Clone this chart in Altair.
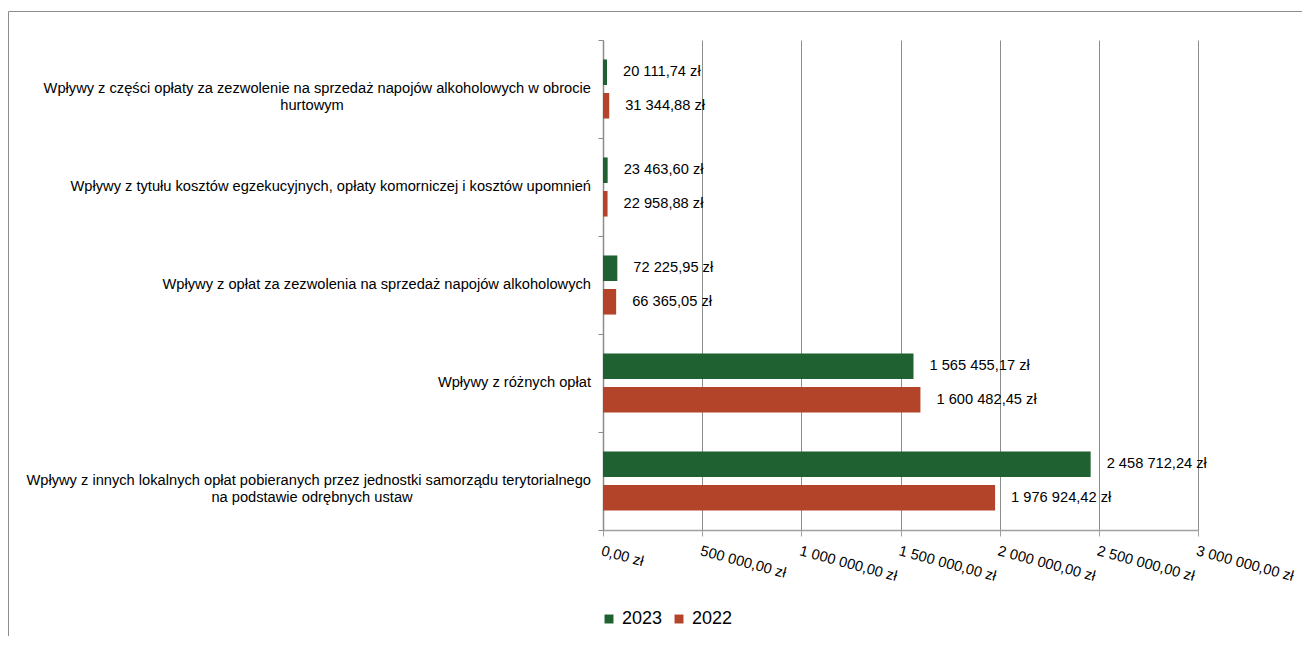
import altair as alt
import pandas as pd

categories = [
    "Wpływy z części opłaty za zezwolenie na sprzedaż napojów alkoholowych w obrocie\nhurtowym",
    "Wpływy z tytułu kosztów egzekucyjnych, opłaty komorniczej i kosztów upomnień",
    "Wpływy z opłat za zezwolenia na sprzedaż napojów alkoholowych",
    "Wpływy z różnych opłat",
    "Wpływy z innych lokalnych opłat pobieranych przez jednostki samorządu terytorialnego\nna podstawie odrębnych ustaw",
]
values_2023 = [20111.74, 23463.60, 72225.95, 1565455.17, 2458712.24]
values_2022 = [31344.88, 22958.88, 66365.05, 1600482.45, 1976924.42]
years = ["2023", "2022"]
x_ticks = [0, 500000, 1000000, 1500000, 2000000, 2500000, 3000000]

GREEN = "#1f6130"
RED = "#b34429"
FONT = "Liberation Sans"
FS = 14.67


def fmt(v):
    s = f"{v:,.2f}".replace(",", " ").replace(".", ",")
    return s + " zł"


rows = []
for c, a, b in zip(categories, values_2023, values_2022):
    rows.append({"cat": c, "year": "2023", "value": a, "label": fmt(a)})
    rows.append({"cat": c, "year": "2022", "value": b, "label": fmt(b)})
df = pd.DataFrame(rows)

lab_rows_a, lab_rows_b = [], []
for c in categories:
    parts = c.split("\n")
    if len(parts) == 2:
        lab_rows_a.append({"cat": c, "t": [parts[0], ""]})
        lab_rows_b.append({"cat": c, "t": ["", parts[1]]})
    else:
        lab_rows_a.append({"cat": c, "t": [parts[0]]})
df_a = pd.DataFrame(lab_rows_a)
df_b = pd.DataFrame(lab_rows_b)

W, H = 595, 490

y_enc = alt.Y(
    "cat:N",
    sort=categories,
    scale=alt.Scale(paddingInner=0, paddingOuter=0),
    axis=alt.Axis(
        labels=False, title=None, grid=False, ticks=True, tickBand="extent",
        tickSize=5, tickColor="#8c8c8c", domainColor="#8c8c8c", domainWidth=1.5,
    ),
)
y_plain = alt.Y("cat:N", sort=categories)
yoff = alt.YOffset(
    "year:N", sort=years,
    scale=alt.Scale(domain=years, paddingInner=0.24, paddingOuter=0.58),
)
x_enc = alt.X(
    "value:Q",
    scale=alt.Scale(domain=[0, 3000000], nice=False),
    axis=alt.Axis(
        values=x_ticks, title=None, grid=True, gridColor="#8c8c8c", gridWidth=1,
        domainColor="#a0a0a0", domainWidth=1.5, tickColor="#a0a0a0", tickSize=6,
        labelAngle=15, labelAlign="left", labelBaseline="top", labelPadding=7,
        labelOverlap=False, labelFlush=False,
        labelFont=FONT, labelFontSize=FS, labelColor="#000000",
        labelExpr="replace(replace(replace(format(datum.value, ',.2f'), ',', ' '), ',', ' '), '.', ',') + ' zł'",
    ),
)

bars = alt.Chart(df).mark_bar().encode(
    x=x_enc,
    y=y_enc,
    yOffset=yoff,
    color=alt.Color(
        "year:N", sort=years,
        scale=alt.Scale(domain=years, range=[GREEN, RED]),
        legend=alt.Legend(
            orient="none", legendX=-3, legendY=570, direction="horizontal",
            title=None, symbolType="square", symbolSize=80, symbolStrokeWidth=0,
            labelFont=FONT, labelFontSize=18, labelColor="#000000",
            labelOffset=4, columnPadding=7,
        ),
    ),
)

value_labels = alt.Chart(df).mark_text(
    align="left", baseline="middle", dx=16, font=FONT, fontSize=FS, color="#000000"
).encode(
    x="value:Q", y=y_plain, yOffset=alt.YOffset("year:N", sort=years), text="label:N"
)

cat_a = alt.Chart(df_a).mark_text(
    align="right", baseline="middle", font=FONT, fontSize=FS, lineHeight=17, color="#000000"
).encode(x=alt.value(-12), y=y_plain, text="t")

cat_b = alt.Chart(df_b).mark_text(
    align="center", baseline="middle", font=FONT, fontSize=FS, lineHeight=17, color="#000000"
).encode(x=alt.value(-291), y=y_plain, text="t")

one = pd.DataFrame({"k": [0]})
border_top = alt.Chart(one).mark_rule(color="#8c8c8c", strokeWidth=1).encode(
    x=alt.value(-594.5), x2=alt.value(W + 110), y=alt.value(-28.5)
)
border_left = alt.Chart(one).mark_rule(color="#8c8c8c", strokeWidth=1).encode(
    x=alt.value(-594.5), y=alt.value(-28.5), y2=alt.value(H + 120)
)

chart = alt.layer(
    bars, value_labels, cat_a, cat_b, border_top, border_left
).properties(
    width=W, height=H,
    autosize=alt.AutoSizeParams(type="none"),
    padding={"left": 595, "top": 32, "right": 104, "bottom": 106},
).configure_view(stroke=None)

chart.save("out.html", embed_options={"renderer": "svg", "actions": False})
